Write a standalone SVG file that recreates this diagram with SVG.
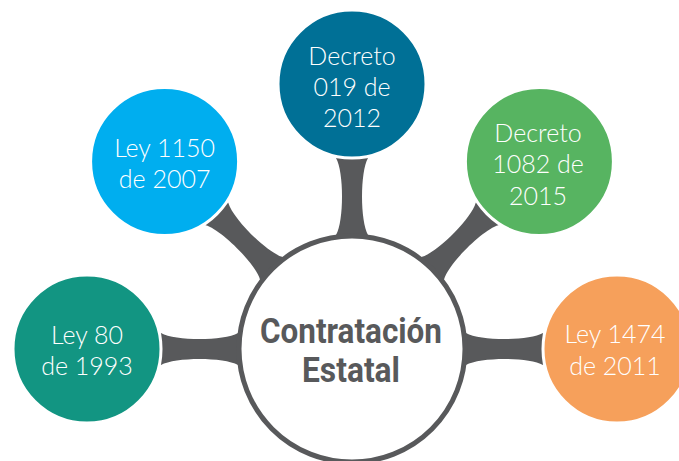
<svg xmlns="http://www.w3.org/2000/svg" width="679" height="461" viewBox="0 0 679 461">
<defs>
<style>
.sat{stroke:#fff;stroke-width:3}
.lbl{font-family:"Lato Light","Lato","Open Sans","Liberation Sans",sans-serif;font-weight:300;font-size:25px;fill:#fff;text-anchor:middle}
.main{font-family:"Roboto","Liberation Sans",sans-serif;font-weight:700;font-size:35px;fill:#58595b;text-anchor:middle}
.conn{fill:#58595b}
</style>
<path id="arm" d="M100,-16 L114,-16 C128,-8 177,-8 191,-16 L205,-16 L205,16 L191,16 C177,8 128,8 114,16 L100,16 Z"/>
</defs>
<rect width="679" height="461" fill="#fff"/>
<g id="connectors" class="conn">
<use href="#arm" transform="translate(352,349) rotate(180)"/>
<use href="#arm" transform="translate(352,349) rotate(-135)"/>
<use href="#arm" transform="translate(352,349) rotate(-90)"/>
<use href="#arm" transform="translate(352,349) rotate(-45)"/>
<use href="#arm" transform="translate(352,349)"/>
</g>
<g id="center">
<circle cx="352" cy="349" r="113" fill="#fff" stroke="#58595b" stroke-width="5"/>
<text class="main" x="351" y="343" textLength="182" lengthAdjust="spacingAndGlyphs">Contratación</text>
<text class="main" x="351" y="382" textLength="98" lengthAdjust="spacingAndGlyphs">Estatal</text>
</g>
<g id="ley80">
<circle class="sat" cx="87" cy="349" r="74" fill="#129582"/>
<text class="lbl" x="87" y="344">Ley 80</text>
<text class="lbl" x="87" y="375">de 1993</text>
</g>
<g id="ley1150">
<circle class="sat" cx="164.6" cy="161.6" r="74" fill="#00AEEF"/>
<text class="lbl" x="164.6" y="157">Ley 1150</text>
<text class="lbl" x="164.6" y="188">de 2007</text>
</g>
<g id="decreto019">
<circle class="sat" cx="352" cy="84" r="74" fill="#007096"/>
<text class="lbl" x="352" y="65">Decreto</text>
<text class="lbl" x="352" y="96">019 de</text>
<text class="lbl" x="352" y="127">2012</text>
</g>
<g id="decreto1082">
<circle class="sat" cx="539.4" cy="161.6" r="74" fill="#57B461"/>
<text class="lbl" x="538" y="142">Decreto</text>
<text class="lbl" x="538" y="173">1082 de</text>
<text class="lbl" x="538" y="205">2015</text>
</g>
<g id="ley1474">
<circle class="sat" cx="617" cy="349" r="74" fill="#F6A05B"/>
<text class="lbl" x="615" y="343">Ley 1474</text>
<text class="lbl" x="615" y="375">de 2011</text>
</g>
</svg>
